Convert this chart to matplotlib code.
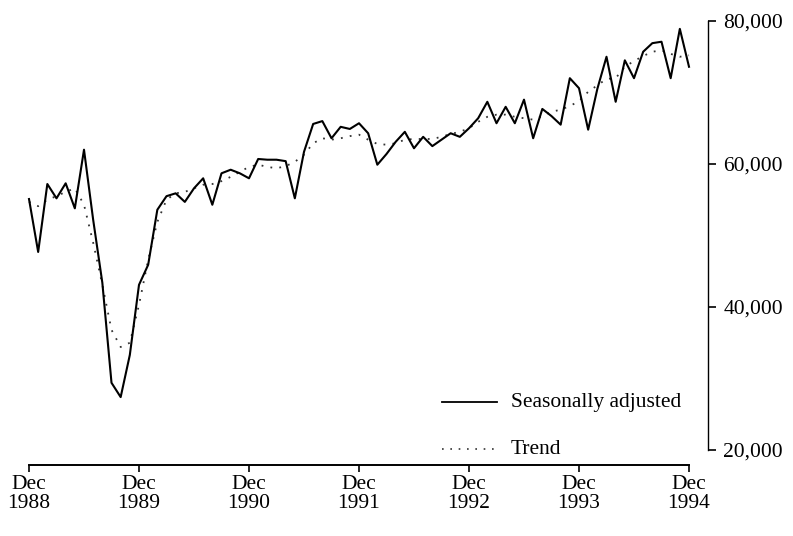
import matplotlib
matplotlib.use("Agg")
import matplotlib.pyplot as plt
import numpy as np

# Monthly data, Dec 1988 .. Dec 1994
seasonally_adjusted = [
    55.1, 47.7, 57.2, 55.2, 57.3, 53.8, 62.0, 52.2, 43.4, 29.4, 27.4, 33.3,
    43.1, 45.9, 53.6, 55.5, 55.9, 54.7, 56.6, 58.0, 54.3, 58.7, 59.2, 58.7,
    58.0, 60.7, 60.6, 60.6, 60.4, 55.2, 61.7, 65.6, 66.0, 63.6, 65.2, 64.9,
    65.7, 64.3, 59.9, 61.4, 63.1, 64.5, 62.2, 63.8, 62.5, 63.4, 64.3, 63.8,
    65.0, 66.4, 68.7, 65.7, 68.0, 65.7, 69.0, 63.6, 67.7, 66.7, 65.5, 72.0,
    70.6, 64.8, 70.5, 75.0, 68.7, 74.5, 72.0, 75.7, 76.9, 77.1, 72.0, 78.9,
    73.6,
]
trend = [
    54.7, 54.1, 55.0, 55.5, 56.1, 56.6, 54.3, 49.0, 43.1, 36.8, 34.4, 35.0,
    40.3, 46.6, 51.9, 55.0, 55.9, 56.1, 56.6, 57.1, 57.2, 57.6, 58.2, 58.9,
    59.6, 59.9, 59.6, 59.4, 59.7, 60.3, 61.3, 62.9, 63.6, 63.4, 63.6, 63.9,
    64.1, 63.4, 62.8, 62.7, 62.9, 63.4, 63.5, 63.5, 63.5, 63.8, 64.2, 64.5,
    65.0, 65.9, 66.6, 66.9, 66.9, 66.6, 66.4, 66.2, 66.7, 67.3, 67.6, 68.1,
    68.8, 70.1, 71.0, 71.9, 72.0, 73.6, 74.4, 75.1, 75.7, 75.9, 75.4, 75.0,
    75.2,
]
x_tick_labels = ["Dec\n1988", "Dec\n1989", "Dec\n1990", "Dec\n1991",
                 "Dec\n1992", "Dec\n1993", "Dec\n1994"]
y_ticks = [20000, 40000, 60000, 80000]
y_tick_labels = ["20,000", "40,000", "60,000", "80,000"]
series_labels = ["Seasonally adjusted", "Trend"]

sa = np.array(seasonally_adjusted) * 1000
tr = np.array(trend) * 1000
months = np.arange(len(sa))

W, H = 793, 536
fig = plt.figure(figsize=(W / 100, H / 100), dpi=100)
fig.patch.set_facecolor("white")

left_px, right_px, top_px, bottom_px = 29, 708, 21, 465
ax = fig.add_axes([left_px / W, 1 - bottom_px / H,
                   (right_px - left_px) / W, (bottom_px - top_px) / H])
ax.set_facecolor("white")

px_per_month = 660 / 72.0
ax.set_xlim(0, (right_px - left_px) / px_per_month)
px_per_unit = 143 / 20000.0
ax.set_ylim(80000 - (bottom_px - top_px) / px_per_unit, 80000)

font = {"family": ["Liberation Serif", "DejaVu Serif"], "size": 15.5}

ax.plot(months, sa, color="black", lw=1.5, clip_on=False, zorder=3)
ax.plot(months, tr, color="#333333", lw=1.3, linestyle=(0, (1, 4)),
        clip_on=False, zorder=2)

for s in ["top", "left"]:
    ax.spines[s].set_visible(False)
ax.spines["bottom"].set_bounds(0, 72)
ax.spines["bottom"].set_linewidth(1.4)
ax.spines["right"].set_bounds(20000, 80000)
ax.spines["right"].set_linewidth(1.0)

ax.set_xticks(np.arange(0, 73, 12))
ax.set_xticklabels(x_tick_labels, fontdict=font, linespacing=1.0)
ax.tick_params(axis="x", direction="out", length=5, width=1.2, pad=2)

ax.yaxis.tick_right()
ax.set_yticks(y_ticks)
ax.set_yticklabels(y_tick_labels, fontdict=font)
ax.tick_params(axis="y", direction="out", length=6, width=1.2, pad=5)

# legend (drawn manually to match the layout)
def fx(px):
    return px / W

def fy(py):
    return 1 - py / H

fig.add_artist(plt.Line2D([fx(442), fx(497)], [fy(402), fy(402)],
                          color="black", lw=1.3))
fig.text(fx(511), fy(402), series_labels[0], fontdict=font, va="center")
fig.add_artist(plt.Line2D([fx(442), fx(497)], [fy(449), fy(449)],
                          color="#333333", lw=1.2, linestyle=(0, (1, 4))))
fig.text(fx(511), fy(449), series_labels[1], fontdict=font, va="center")

fig.savefig("out.png", dpi=100, facecolor="white")
